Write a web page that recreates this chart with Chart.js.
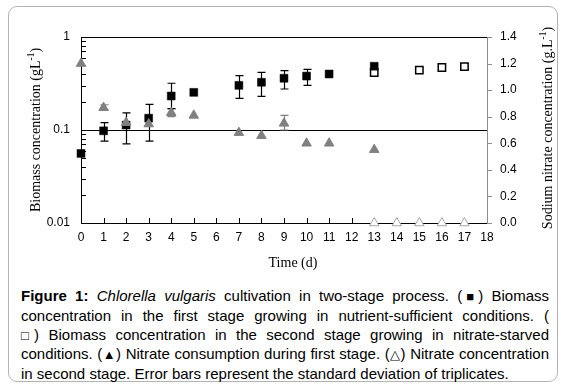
<!DOCTYPE html>
<html>
<head>
<meta charset="utf-8">
<script src="https://cdn.jsdelivr.net/npm/chart.js@4.4.1/dist/chart.umd.min.js"></script>
<style>
  body { margin: 0; background: #fff; width: 565px; height: 388px; overflow: hidden; position: relative; }
  #frame { position: absolute; left: 8px; top: 6px; width: 550px; height: 376px; border: 1.5px solid #b4b4b4; border-radius: 9px; box-sizing: border-box; }
  #wrap { position: absolute; left: 0; top: 0; width: 565px; height: 275px; }
  #caption { position: absolute; left: 21px; top: 287px; width: 528px; font-family: "Liberation Sans", Arial, sans-serif; font-size: 15px; line-height: 18.8px; color: #000; }
  #caption div { text-align: justify; text-align-last: justify; }
  #caption div.last { text-align-last: left; }
  .sym { font-size: 13px; }
</style>
</head>
<body>
<div id="frame"></div>
<div id="wrap"><canvas id="chart"></canvas></div>
<div id="caption">
  <div><b>Figure 1:</b> <i>Chlorella vulgaris</i> cultivation in two-stage process. (<span class="sym">■</span>) Biomass</div>
  <div>concentration in the first stage growing in nutrient-sufficient conditions. (</div>
  <div><span class="sym">□</span>) Biomass concentration in the second stage growing in nitrate-starved</div>
  <div>conditions. (<span class="sym">▲</span>) Nitrate consumption during first stage. (<span class="sym">△</span>) Nitrate concentration</div>
  <div class="last">in second stage. Error bars represent the standard deviation of triplicates.</div>
</div>
<script>
// first stage biomass (gL-1), black squares
const stage1Days = [0, 1, 2, 3, 4, 5, 7, 8, 9, 10, 11, 13];
const stage1Biomass = [0.056, 0.098, 0.113, 0.134, 0.232, 0.254, 0.302, 0.326, 0.36, 0.38, 0.40, 0.485];
const stage1ErrHi = [null, 0.12, 0.153, 0.189, 0.318, null, 0.384, 0.417, 0.434, 0.449, null, null];
const stage1ErrLo = [null, 0.076, 0.071, 0.076, 0.17, null, 0.219, 0.23, 0.276, 0.302, null, null];

// second stage biomass, white squares
const stage2Days = [13, 15, 16, 17];
const stage2Biomass = [0.415, 0.44, 0.47, 0.48];

// nitrate first stage (g.L-1), gray triangles
const nitrate1Days = [0, 1, 2, 3, 4, 5, 7, 8, 9, 10, 11, 13];
const nitrate1 = [1.2, 0.868, 0.755, 0.745, 0.83, 0.81, 0.68, 0.657, 0.75, 0.6, 0.6, 0.552];
const nitrate1ErrHi = [null, 0.89, null, null, 0.86, null, null, null, 0.81, null, null, null];
const nitrate1ErrLo = [null, 0.85, null, null, 0.80, null, null, null, 0.70, null, null, null];

// nitrate second stage, white triangles
const nitrate2Days = [13, 14, 15, 16, 17];
const nitrate2 = [0, 0, 0, 0, 0];

const xTicks = [0, 1, 2, 3, 4, 5, 6, 7, 8, 9, 10, 11, 12, 13, 14, 15, 16, 17, 18];
const leftTicks = [0.01, 0.1, 1];
const rightTicks = [0, 0.2, 0.4, 0.6, 0.8, 1.0, 1.2, 1.4];

const toPoints = (xs, ys) => xs.map((x, i) => ({ x: x, y: ys[i] }));

// log ticks incl. minor ones
const logTicks = [];
for (let d = 0; d < leftTicks.length - 1; d++) {
    for (let k = 1; k <= 9; k++) {
        logTicks.push(k === 1 ? leftTicks[d] : leftTicks[d] * k);
    }
}
logTicks.push(leftTicks[leftTicks.length - 1]);

Chart.defaults.font.family = '"Liberation Sans", Arial, sans-serif';
Chart.defaults.font.size = 12;
Chart.defaults.color = '#000';

// draws one line of text with a "-1" superscript, centered at (x, y)
function drawSupText(ctx, x, y, rot, base, sup, tail) {
    ctx.save();
    ctx.translate(x, y);
    ctx.rotate(rot);
    const big = '14px "Liberation Serif", "Times New Roman", serif';
    const small = '9.5px "Liberation Serif", "Times New Roman", serif';
    ctx.font = big;
    const w1 = ctx.measureText(base).width;
    const w3 = ctx.measureText(tail).width;
    ctx.font = small;
    const w2 = ctx.measureText(sup).width;
    let cx = -(w1 + w2 + w3) / 2;
    ctx.fillStyle = '#000';
    ctx.textBaseline = 'middle';
    ctx.textAlign = 'left';
    ctx.font = big;
    ctx.fillText(base, cx, 0);
    cx += w1;
    ctx.font = small;
    ctx.fillText(sup, cx, -5);
    cx += w2;
    ctx.font = big;
    ctx.fillText(tail, cx, 0);
    ctx.restore();
}

const framePlugin = {
    id: 'frame',
    beforeDatasetsDraw(chart) {
        const ctx = chart.ctx;
        const a = chart.chartArea;
        const x = chart.scales.x, y = chart.scales.y, y2 = chart.scales.y2;
        ctx.save();
        ctx.lineWidth = 1;

        // major gridline at 0.1
        ctx.strokeStyle = '#000';
        ctx.beginPath();
        const g = Math.round(y.getPixelForValue(leftTicks[1])) + 0.5;
        ctx.moveTo(a.left, g);
        ctx.lineTo(a.right, g);
        ctx.stroke();

        // left, top, bottom border
        ctx.beginPath();
        ctx.moveTo(a.left + 0.5, a.bottom + 0.5);
        ctx.lineTo(a.left + 0.5, a.top + 0.5);
        ctx.lineTo(a.right, a.top + 0.5);
        ctx.moveTo(a.left, a.bottom + 0.5);
        ctx.lineTo(a.right, a.bottom + 0.5);
        ctx.stroke();

        // left minor ticks, inward
        ctx.beginPath();
        logTicks.forEach(v => {
            const p = Math.round(y.getPixelForValue(v)) + 0.5;
            ctx.moveTo(a.left, p);
            ctx.lineTo(a.left + 5, p);
        });
        // x ticks, inward
        xTicks.forEach(v => {
            const p = Math.round(x.getPixelForValue(v)) + 0.5;
            ctx.moveTo(p, a.bottom);
            ctx.lineTo(p, a.bottom - 5);
        });
        ctx.stroke();

        // right axis in gray, ticks outward
        ctx.strokeStyle = '#8c8c8c';
        ctx.beginPath();
        ctx.moveTo(a.right + 0.5, a.top);
        ctx.lineTo(a.right + 0.5, a.bottom + 1);
        rightTicks.forEach(v => {
            const p = Math.round(y2.getPixelForValue(v)) + 0.5;
            ctx.moveTo(a.right, p);
            ctx.lineTo(a.right + 5, p);
        });
        ctx.stroke();

        // error bars
        chart.data.datasets.forEach((ds, i) => {
            if (!ds.errHi) return;
            const meta = chart.getDatasetMeta(i);
            const sc = chart.scales[ds.yAxisID];
            ctx.strokeStyle = ds.errColor;
            ctx.lineWidth = 1.2;
            ctx.beginPath();
            meta.data.forEach((pt, j) => {
                if (ds.errHi[j] == null) return;
                const px = Math.round(pt.x) + 0.5;
                const hi = sc.getPixelForValue(ds.errHi[j]);
                const lo = sc.getPixelForValue(ds.errLo[j]);
                ctx.moveTo(px, hi);
                ctx.lineTo(px, lo);
                ctx.moveTo(px - 4, hi);
                ctx.lineTo(px + 4, hi);
                ctx.moveTo(px - 4, lo);
                ctx.lineTo(px + 4, lo);
            });
            ctx.stroke();
        });
        ctx.restore();
    },
    afterDraw(chart) {
        const ctx = chart.ctx;
        ctx.save();
        ctx.fillStyle = '#000';
        ctx.font = '14px "Liberation Serif", "Times New Roman", serif';
        ctx.textAlign = 'center';
        ctx.textBaseline = 'middle';
        ctx.fillText('Time (d)', 293, 263);
        ctx.restore();
        drawSupText(ctx, 36, 130, -Math.PI / 2, 'Biomass concentration (gL', '-1', ')');
        drawSupText(ctx, 548, 128, -Math.PI / 2, 'Sodium nitrate concentration (g.L', '-1', ')');
    }
};

new Chart(document.getElementById('chart'), {
    type: 'scatter',
    data: {
        datasets: [
            {
                label: 'Nitrate first stage',
                data: toPoints(nitrate1Days, nitrate1),
                yAxisID: 'y2',
                pointStyle: 'triangle',
                pointRadius: 5.5,
                backgroundColor: '#808080',
                borderColor: '#808080',
                borderWidth: 1,
                errHi: nitrate1ErrHi,
                errLo: nitrate1ErrLo,
                errColor: '#808080',
                clip: false,
                order: 1
            },
            {
                label: 'Nitrate second stage',
                data: toPoints(nitrate2Days, nitrate2),
                yAxisID: 'y2',
                pointStyle: 'triangle',
                pointRadius: 5.5,
                backgroundColor: '#fff',
                borderColor: '#a6a6a6',
                borderWidth: 1,
                clip: false,
                order: 2
            },
            {
                label: 'Biomass first stage',
                data: toPoints(stage1Days, stage1Biomass),
                yAxisID: 'y',
                pointStyle: 'rect',
                pointRadius: 5.6,
                backgroundColor: '#000',
                borderColor: '#000',
                borderWidth: 0.5,
                errHi: stage1ErrHi,
                errLo: stage1ErrLo,
                errColor: '#000',
                clip: false,
                order: 3
            },
            {
                label: 'Biomass second stage',
                data: toPoints(stage2Days, stage2Biomass),
                yAxisID: 'y',
                pointStyle: 'rect',
                pointRadius: 5.2,
                backgroundColor: '#fff',
                borderColor: '#000',
                borderWidth: 1.5,
                clip: false,
                order: 4
            }
        ]
    },
    options: {
        responsive: true,
        maintainAspectRatio: false,
        animation: false,
        layout: { padding: { top: 37, left: 0, right: 0, bottom: 0 } },
        plugins: { legend: { display: false }, tooltip: { enabled: false } },
        scales: {
            x: {
                type: 'linear',
                min: 0,
                max: 18,
                afterBuildTicks: s => { s.ticks = xTicks.map(v => ({ value: v })); },
                afterFit: s => { s.height = 52; },
                ticks: { padding: 7, autoSkip: false, maxRotation: 0 },
                grid: { display: false, drawTicks: false },
                border: { display: false }
            },
            y: {
                type: 'logarithmic',
                position: 'left',
                min: 0.01,
                max: 1,
                afterBuildTicks: s => { s.ticks = logTicks.map(v => ({ value: v })); },
                afterFit: s => { s.width = 81; },
                ticks: {
                    padding: 11,
                    autoSkip: false,
                    callback: v => leftTicks.includes(v) ? String(v) : ''
                },
                grid: { display: false, drawTicks: false },
                border: { display: false }
            },
            y2: {
                type: 'linear',
                position: 'right',
                min: 0,
                max: 1.4,
                afterBuildTicks: s => { s.ticks = rightTicks.map(v => ({ value: v })); },
                afterFit: s => { s.width = 78; },
                ticks: { padding: 13, autoSkip: false, callback: v => v.toFixed(1) },
                grid: { display: false, drawTicks: false },
                border: { display: false }
            }
        }
    },
    plugins: [framePlugin]
});
</script>
</body>
</html>
